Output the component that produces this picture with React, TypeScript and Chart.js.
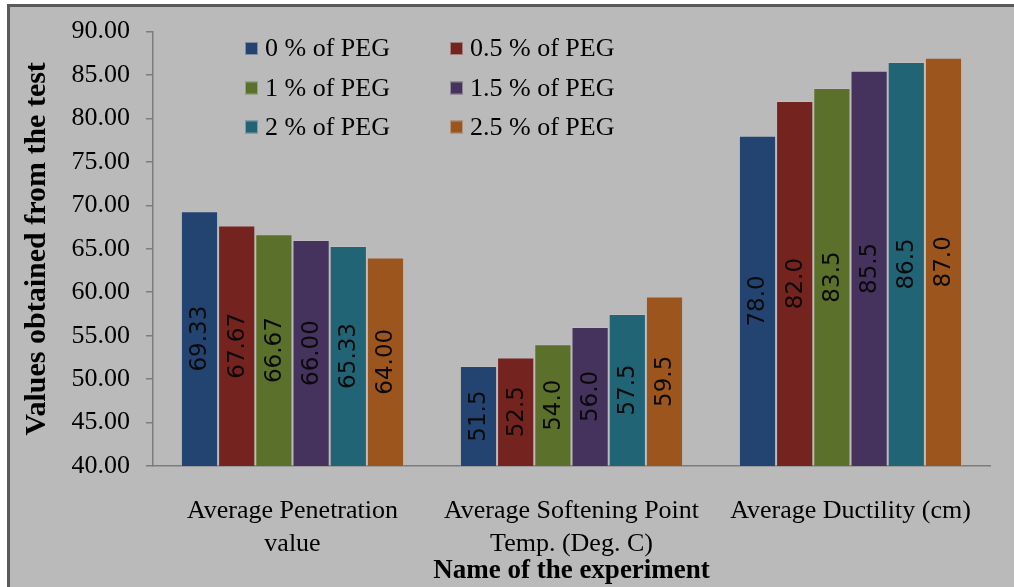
import React, { useEffect, useRef } from "react";
import { Chart, registerables } from "chart.js";

Chart.register(...registerables);

const categories: string[][] = [
  ["Average Penetration", "value"],
  ["Average Softening Point", "Temp. (Deg. C)"],
  ["Average Ductility (cm)"],
];
const labelDecimals = [2, 1, 1];

const seriesNames = ["0 % of PEG", "0.5 % of PEG", "1 % of PEG", "1.5 % of PEG", "2 % of PEG", "2.5 % of PEG"];
const peg0 = [69.33, 51.5, 78.0];
const peg05 = [67.67, 52.5, 82.0];
const peg1 = [66.67, 54.0, 83.5];
const peg15 = [66.0, 56.0, 85.5];
const peg2 = [65.33, 57.5, 86.5];
const peg25 = [64.0, 59.5, 87.0];
const seriesValues = [peg0, peg05, peg1, peg15, peg2, peg25];
const seriesColors = ["#234470", "#74231F", "#5B702A", "#45325D", "#216476", "#9C551D"];

const yMin = 40;
const yMax = 90;
const yStep = 5;
const yTitle = "Values obtained from the test";
const xTitle = "Name of the experiment";

const SERIF = "'Liberation Serif', 'Times New Roman', serif";

const frameBgPlugin = {
  id: "frameBg",
  beforeDraw(chart: any) {
    const ctx = chart.ctx;
    ctx.save();
    ctx.fillStyle = "#ffffff";
    ctx.fillRect(0, 0, chart.width, chart.height);
    ctx.fillStyle = "#bababa";
    ctx.fillRect(7, 4, chart.width - 7, chart.height - 4);
    ctx.fillStyle = "#5a5a5a";
    ctx.fillRect(7, 4, chart.width - 7, 3);
    ctx.fillRect(7, 4, 3, chart.height - 4);
    ctx.restore();
  },
};

const barLabelPlugin = {
  id: "barLabels",
  afterDatasetsDraw(chart: any) {
    const ctx = chart.ctx;
    const yScale = chart.scales.y;
    const basePx = yScale.getPixelForValue(yMin);
    ctx.save();
    ctx.font = "23px 'DejaVu Sans', sans-serif";
    ctx.fillStyle = "#0a0a0a";
    ctx.textAlign = "center";
    ctx.textBaseline = "middle";
    chart.data.datasets.forEach((ds: any, di: number) => {
      const meta = chart.getDatasetMeta(di);
      meta.data.forEach((el: any, i: number) => {
        const v = ds.data[i] as number;
        const txt = v.toFixed(labelDecimals[i]);
        const topPx = yScale.getPixelForValue(v);
        const cy = (topPx + basePx) / 2;
        ctx.save();
        ctx.translate(el.x, cy);
        ctx.rotate(-Math.PI / 2);
        ctx.fillText(txt, 0, 1);
        ctx.restore();
      });
    });
    ctx.restore();
  },
};

const legendPlugin = {
  id: "gridLegend",
  afterDraw(chart: any) {
    const ctx = chart.ctx;
    const colX = [245, 450];
    const rowY = [48.5, 88, 127];
    ctx.save();
    ctx.font = "26px " + SERIF;
    ctx.textBaseline = "middle";
    ctx.textAlign = "left";
    chart.data.datasets.forEach((ds: any, i: number) => {
      const x = colX[i % 2];
      const y = rowY[Math.floor(i / 2)];
      ctx.fillStyle = ds.backgroundColor;
      ctx.fillRect(x, y - 6.5, 13, 13);
      ctx.strokeStyle = "rgba(190,190,190,0.6)";
      ctx.lineWidth = 1;
      ctx.strokeRect(x + 0.5, y - 6, 12, 12);
      ctx.fillStyle = "#000";
      ctx.fillText(ds.label, x + 20, y + 1);
    });
    ctx.restore();
  },
};

export default function App() {
  const ref = useRef<HTMLCanvasElement | null>(null);

  useEffect(() => {
    if (!ref.current) return;
    const chart = new Chart(ref.current, {
      type: "bar",
      data: {
        labels: categories,
        datasets: seriesValues.map((vals, i) => ({
          label: seriesNames[i],
          data: vals,
          backgroundColor: seriesColors[i],
          borderColor: "rgba(200,200,200,0.35)",
          borderWidth: 1,
          categoryPercentage: 0.8,
          barPercentage: 1.0,
        })),
      },
      options: {
        animation: false,
        responsive: false,
        maintainAspectRatio: false,
        layout: { padding: { top: 30, right: 24, bottom: 0, left: 0 } },
        plugins: {
          legend: { display: false },
          tooltip: { enabled: false },
        },
        scales: {
          x: {
            offset: true,
            grid: { display: false, drawTicks: false },
            border: { display: true, color: "#7c7c7c", width: 1.5 },
            ticks: {
              color: "#000",
              padding: 29,
              maxRotation: 0,
              autoSkip: false,
              font: { family: SERIF, size: 26, lineHeight: 1.27 },
            },
            title: {
              display: true,
              text: xTitle,
              color: "#000",
              font: { family: SERIF, size: 27, weight: "bold", lineHeight: 1 },
              padding: { top: 0, bottom: 2.5 },
            },
            afterFit(scale: any) {
              scale.height = 121;
            },
          },
          y: {
            min: yMin,
            max: yMax,
            grid: {
              display: true,
              drawOnChartArea: false,
              drawTicks: true,
              tickLength: 7,
              color: "#7c7c7c",
              lineWidth: 1.5,
            },
            border: { display: true, color: "#7c7c7c", width: 1.5 },
            ticks: {
              stepSize: yStep,
              color: "#000",
              padding: 16,
              font: { family: SERIF, size: 26 },
              callback: (v: any) => Number(v).toFixed(2),
            },
            title: {
              display: true,
              text: yTitle,
              color: "#000",
              font: { family: SERIF, size: 30, weight: "bold", lineHeight: 1 },
              padding: { top: 22.5, bottom: 0 },
            },
            afterFit(scale: any) {
              scale.width = 153;
            },
          },
        },
      },
      plugins: [frameBgPlugin, barLabelPlugin, legendPlugin],
    });
    return () => chart.destroy();
  }, []);

  return (
    <div
      style={{
        position: "fixed",
        left: 0,
        top: 0,
        width: 1014,
        height: 587,
        background: "#ffffff",
        overflow: "hidden",
      }}
    >
      <canvas
        ref={ref}
        width={1014}
        height={587}
        style={{ position: "absolute", left: 0, top: 0, width: 1014, height: 587 }}
      />
    </div>
  );
}
